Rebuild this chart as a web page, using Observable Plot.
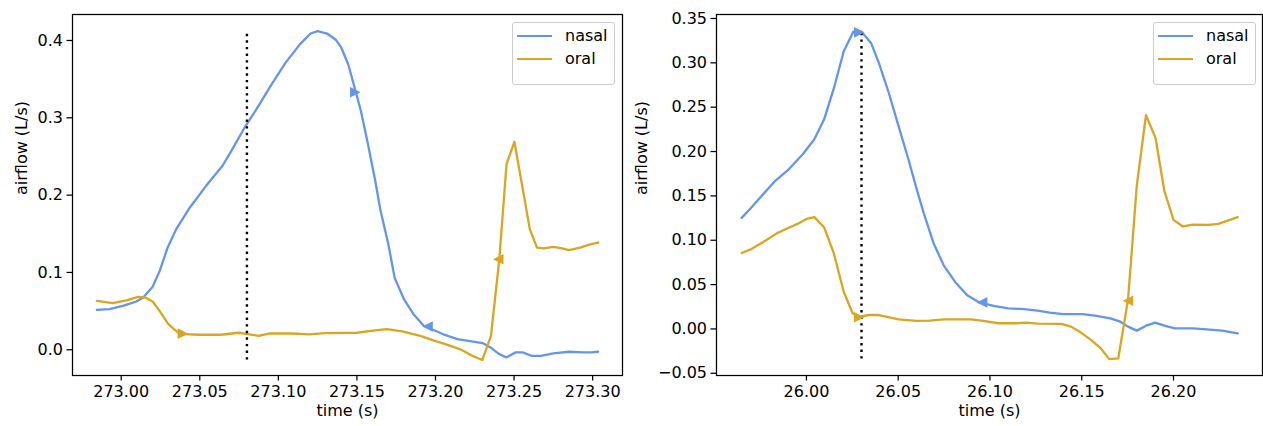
<!DOCTYPE html>
<html>
<head>
<meta charset="utf-8">
<script src="https://cdn.jsdelivr.net/npm/d3@7"></script>
<script src="https://cdn.jsdelivr.net/npm/@observablehq/plot@0.6"></script>
<style>
  body { margin: 0; background: #fff; font-family: "DejaVu Sans", sans-serif; }
  #wrap { position: relative; width: 1263px; height: 426px; overflow: hidden; }
  .panel { position: absolute; top: 0; }
  .panel svg { overflow: visible; }
  .legend { position: absolute; width: 103px; height: 63px; box-sizing: border-box;
    border: 1px solid #cccccc; border-radius: 3px; background: rgba(255,255,255,0.8);
    font-family: "DejaVu Sans", sans-serif; font-size: 16px; color: #000; }
  .legend .sw { position: absolute; left: 4px; width: 35px; height: 2.4px; }
  .legend .lb { position: absolute; left: 52px; line-height: 18px; }
</style>
</head>
<body>
<div id="wrap"></div>
<script>
// ---------- data: left panel ----------
const seriesNames = ["nasal", "oral"];
const seriesColors = ["#6495ED", "#DAA520"];

const leftNasalTime = [272.9845,272.9925,273.0016,273.0096,273.014,273.020,273.0245,273.0295,273.035,273.043,273.054,273.0645,273.070,273.079,273.086,273.095,273.1045,273.1137,273.1205,273.125,273.131,273.1365,273.140,273.1445,273.148,273.1525,273.157,273.1617,273.165,273.170,273.174,273.180,273.186,273.1925,273.205,273.214,273.230,273.235,273.2405,273.245,273.251,273.2555,273.261,273.267,273.275,273.285,273.294,273.299,273.3035];
const leftNasalFlow = [0.0517,0.0525,0.057,0.0624,0.0676,0.0814,0.102,0.132,0.156,0.182,0.212,0.238,0.257,0.289,0.311,0.341,0.371,0.395,0.409,0.412,0.409,0.401,0.391,0.369,0.343,0.309,0.266,0.218,0.180,0.1365,0.093,0.065,0.046,0.031,0.020,0.0138,0.0086,0.003,-0.0056,-0.0099,-0.0034,-0.0034,-0.0078,-0.0078,-0.0047,-0.0026,-0.0034,-0.0034,-0.0026];

const leftOralTime = [272.9845,272.9947,273.0039,273.0107,273.0153,273.020,273.0245,273.030,273.036,273.0405,273.0496,273.0633,273.0748,273.0805,273.0874,273.094,273.109,273.1194,273.1297,273.150,273.159,273.169,273.1788,273.1903,273.2006,273.2063,273.2155,273.2234,273.2298,273.2353,273.2406,273.2452,273.2502,273.255,273.260,273.2646,273.269,273.275,273.2806,273.285,273.292,273.299,273.3035];
const leftOralFlow = [0.0633,0.0603,0.0642,0.0685,0.0676,0.0624,0.050,0.033,0.0224,0.0202,0.0194,0.0194,0.022,0.0202,0.018,0.021,0.021,0.0198,0.0215,0.022,0.0245,0.0267,0.0237,0.018,0.0108,0.0073,0.0009,-0.0078,-0.0133,0.018,0.117,0.240,0.269,0.214,0.156,0.132,0.131,0.133,0.131,0.1288,0.132,0.1365,0.1387];

const leftMarkTime = [273.149, 273.1949, 273.0393, 273.2399];
const leftMarkFlow = [0.333, 0.0301, 0.0208, 0.117];
const leftMarkSeries = ["nasal", "nasal", "oral", "oral"];
const leftMarkDir = ["right", "left", "right", "left"];
const leftEventTime = 273.08;

const leftXDomain = [272.969, 273.319];
const leftYDomain = [-0.0333, 0.4336];
const leftXTicks = [273.00, 273.05, 273.10, 273.15, 273.20, 273.25, 273.30];
const leftYTicks = [0.0, 0.1, 0.2, 0.3, 0.4];

// ---------- data: right panel ----------
const rightNasalTime = [25.9647,25.970,25.9765,25.983,25.9904,25.998,26.0043,26.0096,26.015,26.0203,26.0256,26.030,26.0353,26.0395,26.0449,26.0502,26.0556,26.0598,26.064,26.0694,26.0748,26.081,26.0876,26.094,26.1026,26.110,26.1186,26.126,26.1325,26.140,26.1506,26.158,26.1656,26.171,26.1752,26.180,26.1848,26.190,26.1955,26.2008,26.2105,26.218,26.2265,26.235];
const rightNasalFlow = [0.1252,0.137,0.152,0.167,0.180,0.197,0.2138,0.236,0.2717,0.3128,0.3352,0.3352,0.322,0.2997,0.266,0.2287,0.191,0.1596,0.130,0.096,0.0717,0.053,0.038,0.030,0.0258,0.0232,0.0224,0.0206,0.0183,0.0168,0.0168,0.0146,0.012,0.0082,0.0026,-0.0019,0.0034,0.0071,0.0034,0.0007,0.0007,-0.0004,-0.0019,-0.0049];

const rightOralTime = [25.9647,25.970,25.9765,25.984,25.9904,25.9957,26.000,26.0043,26.0096,26.015,26.0203,26.0252,26.0288,26.0342,26.0395,26.0502,26.0598,26.0673,26.0748,26.0897,26.0962,26.1047,26.1143,26.1197,26.126,26.1389,26.1442,26.1496,26.155,26.1603,26.165,26.1699,26.1752,26.180,26.185,26.1902,26.195,26.200,26.2051,26.2105,26.219,26.2244,26.235];
const rightOralFlow = [0.0856,0.090,0.098,0.108,0.114,0.119,0.124,0.126,0.1147,0.0848,0.0419,0.0176,0.0138,0.0157,0.0157,0.0108,0.009,0.0093,0.0108,0.0108,0.009,0.0064,0.0064,0.0071,0.006,0.0056,0.0026,-0.0041,-0.0123,-0.0217,-0.034,-0.0333,0.0325,0.1614,0.241,0.2156,0.1558,0.123,0.1155,0.1177,0.1173,0.1185,0.126];

const rightMarkTime = [26.0288, 26.0957, 26.0288, 26.1752];
const rightMarkFlow = [0.3344, 0.0299, 0.0131, 0.0318];
const rightMarkSeries = ["nasal", "nasal", "oral", "oral"];
const rightMarkDir = ["right", "left", "right", "left"];
const rightEventTime = 26.03;

const rightXDomain = [25.951, 26.2485];
const rightYDomain = [-0.0525, 0.3545];
const rightXTicks = [26.00, 26.05, 26.10, 26.15, 26.20];
const rightYTicks = [-0.05, 0.00, 0.05, 0.10, 0.15, 0.20, 0.25, 0.30, 0.35];

// ---------- drawing ----------
const colorOf = s => seriesColors[seriesNames.indexOf(s)];

// right-pointing triangle as wide as it is long (like matplotlib ">")
const triRight = {
  draw(ctx, size) {
    const h = Math.sqrt(size / Math.PI);
    ctx.moveTo(h, 0);
    ctx.lineTo(-h, -h);
    ctx.lineTo(-h, h);
    ctx.closePath();
  }
};

function zip(t, v) { return t.map((d, i) => ({t: d, v: v[i]})); }

function panel(opts) {
  const nasal = zip(opts.nasalT, opts.nasalV);
  const oral = zip(opts.oralT, opts.oralV);
  const marks = opts.markT.map((t, i) => ({t, v: opts.markV[i], s: opts.markS[i], d: opts.markD[i]}));
  const lo = d3.min([...opts.nasalV, ...opts.oralV]);
  const hi = d3.max([...opts.nasalV, ...opts.oralV]);
  return Plot.plot({
    width: opts.width,
    height: 426,
    marginLeft: opts.ml,
    marginRight: opts.mr,
    marginTop: 14,
    marginBottom: 51,
    style: {fontFamily: "'DejaVu Sans', sans-serif", fontSize: "16px", color: "#000", background: "transparent", overflow: "visible"},
    x: {domain: opts.xDomain, label: null},
    y: {domain: opts.yDomain, label: null},
    marks: [
      Plot.line(nasal, {x: "t", y: "v", stroke: colorOf("nasal"), strokeWidth: 2.3}),
      Plot.line(oral, {x: "t", y: "v", stroke: colorOf("oral"), strokeWidth: 2.3}),
      Plot.ruleX([opts.event], {y1: lo, y2: hi, stroke: "#000", strokeWidth: 2.4, strokeDasharray: "2.4,4.2"}),
      Plot.dot(marks, {x: "t", y: "v", symbol: triRight, r: 5.3, fill: d => colorOf(d.s), stroke: "none", rotate: d => d.d === "right" ? 0 : 180}),
      Plot.frame({stroke: "#000", strokeWidth: 1.25}),
      Plot.axisX({ticks: opts.xTicks, tickFormat: d3.format(".2f"), tickSize: 5.5, tickPadding: 5, label: null, strokeWidth: 1.25, fontSize: 16}),
      Plot.axisY({ticks: opts.yTicks, tickFormat: d3.format(opts.yFmt), tickSize: 5.5, tickPadding: 4, label: null, strokeWidth: 1.25, fontSize: 16}),
      Plot.text(["time (s)"], {frameAnchor: "bottom", dy: 40, fontSize: 16, fill: "#000"}),
      Plot.text(["airflow (L/s)"], {frameAnchor: "left", dx: opts.ylabDx, rotate: -90, fontSize: 16, fill: "#000"})
    ]
  });
}

function legend(left, top) {
  const box = document.createElement("div");
  box.className = "legend";
  box.style.left = left + "px";
  box.style.top = top + "px";
  seriesNames.forEach((name, i) => {
    const sw = document.createElement("div");
    sw.className = "sw";
    sw.style.top = (13 + i * 23.3 - 1.2) + "px";
    sw.style.background = seriesColors[i];
    const lb = document.createElement("div");
    lb.className = "lb";
    lb.style.top = (13 + i * 23.3 - 9) + "px";
    lb.textContent = name;
    box.appendChild(sw);
    box.appendChild(lb);
  });
  return box;
}

const wrap = document.getElementById("wrap");

const left = panel({
  width: 640, ml: 72, mr: 18,
  nasalT: leftNasalTime, nasalV: leftNasalFlow, oralT: leftOralTime, oralV: leftOralFlow,
  markT: leftMarkTime, markV: leftMarkFlow, markS: leftMarkSeries, markD: leftMarkDir,
  event: leftEventTime, xDomain: leftXDomain, yDomain: leftYDomain,
  xTicks: leftXTicks, yTicks: leftYTicks, yFmt: ".1f", ylabDx: -51
});
const lp = document.createElement("div");
lp.className = "panel"; lp.style.left = "0px";
lp.appendChild(left);
wrap.appendChild(lp);

const right = panel({
  width: 643, ml: 96, mr: 1,
  nasalT: rightNasalTime, nasalV: rightNasalFlow, oralT: rightOralTime, oralV: rightOralFlow,
  markT: rightMarkTime, markV: rightMarkFlow, markS: rightMarkSeries, markD: rightMarkDir,
  event: rightEventTime, xDomain: rightXDomain, yDomain: rightYDomain,
  xTicks: rightXTicks, yTicks: rightYTicks, yFmt: ".2f", ylabDx: -75
});
const rp = document.createElement("div");
rp.className = "panel"; rp.style.left = "620px";
rp.appendChild(right);
wrap.appendChild(rp);

wrap.appendChild(legend(512, 22));
wrap.appendChild(legend(1153, 22));
</script>
</body>
</html>
